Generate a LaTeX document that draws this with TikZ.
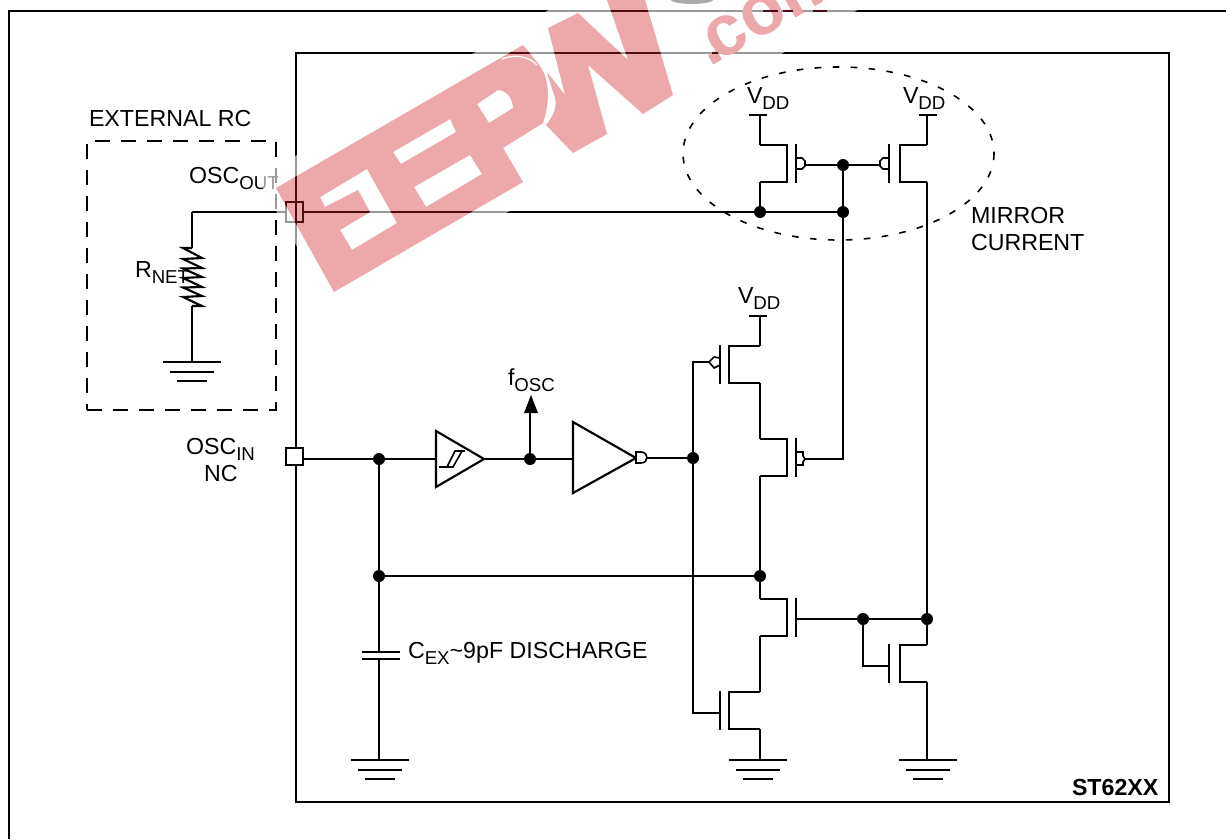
\documentclass[tikz,border=0pt]{standalone}
\usepackage{fontspec}
\setmainfont{Liberation Sans}
\newcommand{\mainsize}{\fontsize{17.4}{20}\selectfont}
\newcommand{\lowtext}[1]{\raisebox{-4.6pt}{\fontsize{14}{16}\selectfont #1}}
% rail x, top y, channel offset, gate offset
\newcommand{\fetdev}[5]{%
  \coordinate (#1-t) at (#2,#3);
  \coordinate (#1-b) at (#2,#3+37);
  \coordinate (#1-g) at (#2+#5,#3+20);
  \draw[wire] (#1-t) -- ++(#4,0) -- ++(0,37) -- (#1-b);
  \draw[wire] (#2+#5,#3-1) -- (#2+#5,#3+38);
}
% open bubble on a gate, second argument +1 pointing right, -1 pointing left
\newcommand{\gatebubble}[2]{%
  \draw[thinwire] (#1) ++(0,-7) -- ++(#2*6,0) -- ++(#2*3,3) -- ++(0,5) -- ++(-#2*3,3) -- ++(-#2*6,0);
}
\newcommand{\earth}[1]{%
  \draw[wire] (#1) ++(-29,0) -- ++(58,0);
  \draw[wire] (#1) ++(-22,10) -- ++(44,0);
  \draw[wire] (#1) ++(-15,19) -- ++(30,0);
}
\newcommand{\wmshape}{
  (276,188) -- (523,45) -- (537,62) .. controls (548,75) and (552,95) .. (543,123) -- (503,148) -- (523,182) -- (334,292) -- cycle
  (320,197) -- (367,169) -- (397,223) -- (352,250) -- (340,230) -- (370,212) -- (358,190) -- (325,207) -- cycle
  (393,152) -- (450,119) -- (456,132) -- (401,164) -- cycle
  (414,187) -- (470,155) -- (482,174) -- (426,207) -- cycle
  (477,104) -- (498,90) .. controls (507,91) and (512,97) .. (513,108) -- (489,123) -- cycle
  (548,28) -- (578,13) -- (628,60) -- (607,0) -- (645,0) -- (673,95) -- (643,114) -- (588,65) -- (607,134) -- (573,153) -- (546,125) .. controls (556,113) and (558,102) .. (553,92) -- (547,72) -- (565,95) -- cycle
}
\tikzset{
  x=0.75pt, y=-0.75pt,
  wire/.style={line width=1.6pt, black},
  thinwire/.style={line width=1.2pt, black},
  junction/.style={circle, fill=black, inner sep=0pt, minimum size=9pt},
  port/.style={draw=black, line width=1.6pt, fill=white, inner sep=0pt, minimum width=12.75pt},
  tag/.style={anchor=base west, inner sep=0pt, outer sep=0pt, font=\mainsize, text=black},
  dashbox/.style={line width=1.5pt, dash pattern=on 11pt off 8.5pt},
  dashell/.style={line width=1.2pt, dash pattern=on 5pt off 8.5pt},
  darkline/.style={draw=wmdark, line width=1.6pt},
}
\definecolor{wmpink}{RGB}{236,168,171}
\definecolor{wmgrey}{RGB}{170,170,170}
\definecolor{wmdark}{RGB}{80,10,18}
\begin{document}
\begin{tikzpicture}
\useasboundingbox (0,0) rectangle (1226,839);
\clip (0,0) rectangle (1226,839);
\fill[white] (0,0) rectangle (1226,839);

% frames
\draw[line width=1.9pt] (9,839) -- (9,11) -- (1226,11);
\node[draw=black, line width=1.6pt, inner sep=0pt, minimum width=654.75pt, minimum height=561.75pt] (chip) at (732.5,427.5) {};

% external RC
\node[draw=black, dashbox, inner sep=0pt, minimum width=141.75pt, minimum height=201.75pt] (ext) at (181.5,275.5) {};
\coordinate (rtop) at (192,212);
\coordinate (rz1) at (192,248);
\coordinate (rz2) at (192,306);
\coordinate (g1) at (192,362);
\draw[wire] (rtop) -- (rz1);
\draw[wire] (rz1) -- (183,248) -- (202,258) -- (183,259) -- (202,268) -- (183,268.5) -- (202,277) -- (183,278) -- (202,287) -- (183,287.5) -- (202,296) -- (183,297) -- (202,306) -- (rz2);
\draw[wire] (rz2) -- (g1);
\earth{g1}

% ports
\node[port, minimum height=15pt] (pout) at (294.5,212) {};
\node[port, minimum height=12.75pt] (pin) at (294.5,456.5) {};

% transistors
\fetdev{m1}{760}{145}{27}{36}
\fetdev{m2}{927}{145}{-27}{-38}
\fetdev{m3}{760}{346}{-31}{-40}
\fetdev{m4}{760}{439}{27}{36}
\fetdev{m5}{760}{599}{27}{36}
\fetdev{m6}{760}{692}{-31}{-40}
\fetdev{m7}{927}{645}{-27}{-38}

% supplies
\coordinate (v1) at (760,115);
\coordinate (v2) at (927,115);
\coordinate (v3) at (760,316);
\draw[wire] (v1) ++(-11,0) -- ++(18,0);
\draw[wire] (v2) ++(-8,0) -- ++(18,0);
\draw[wire] (v3) ++(-11,0) -- ++(18,0);
\draw[wire] (v1) -- (m1-t);
\draw[wire] (v2) -- (m2-t);
\draw[wire] (v3) -- (m3-t);

% junctions
\node[junction] (j1) at (760,212) {};
\node[junction] (j2) at (843,212) {};
\node[junction] (j3) at (843,165) {};
\node[junction] (j4) at (379,459) {};
\node[junction] (j5) at (530,459) {};
\node[junction] (j6) at (693,458) {};
\node[junction] (j7) at (379,576) {};
\node[junction] (j8) at (760,576) {};
\node[junction] (j9) at (863,619) {};
\node[junction] (j10) at (927,619) {};

% grounds
\coordinate (g2) at (380,760);
\coordinate (g3) at (758,760);
\coordinate (g4) at (928,760);
\earth{g2}
\earth{g3}
\earth{g4}

% wires
\draw[wire] (rtop) -- (pout);
\draw[wire] (pout) -- (j1.center) -- (j2.center);
\draw[wire] (m1-b) -- (j1.center);
\draw[wire] (j3.center) -- (843,459) -- (805,459);
\draw[wire] (805,165) -- (j3.center) -- (880,165);
\gatebubble{m1-g}{1}
\gatebubble{m2-g}{-1}
\draw[wire] (m2-b) -- (j10.center) -- (m7-t);
\draw[wire] (m3-b) -- (m4-t);
\draw[wire] (m4-b) -- (j8.center) -- (m5-t);
\draw[wire] (m5-b) -- (m6-t);
\draw[wire] (m6-b) -- (g3 -| m6-b);
\draw[wire] (m7-b) -- (g4 -| m7-b);
\draw[wire] (m5-g) -- (j9.center) -- (j10.center);
\draw[wire] (j9.center) -- (863,666) -- (889,666);
\draw[wire] (709,362) -- (693,362) -- (693,713) -- (720,713);
\draw[thinwire] (720,358) -- (714,357) -- (709,362) -- (714,368) -- (720,365);
\draw[thinwire] (796,452) -- (803,452) -- (803,456) -- (805,459) -- (803,462) -- (803,465) -- (796,465);
\draw[wire] (pin.east |- j4) -- (j4.center) -- (436,459);
\draw[wire] (j4.center) -- (j7.center) -- (379,652);
\draw[wire] (379,659) -- (379,760);
\draw[wire] (362,652) -- (400,652);
\draw[wire] (362,659) -- (400,659);
\draw[wire] (j7.center) -- (j8.center);

% buffer and inverter
\coordinate (sa) at (436,431);
\coordinate (sb) at (436,487);
\coordinate (sc) at (484,459);
\draw[wire, line join=miter] (sa) -- (sc) -- (sb) -- cycle;
\draw[thinwire] (439,467) -- (453,467) -- (462,451) -- (465,451);
\draw[thinwire] (447,467) -- (455,451) -- (462,451);
\coordinate (ia) at (573,422);
\coordinate (ib) at (573,493);
\coordinate (ic) at (636,458);
\draw[wire, line join=miter] (ia) -- (ic) -- (ib) -- cycle;
\draw[wire] (sc) -- (j5.center) -- (ia |- j5);
\draw[wire] (j5.center) -- (530,413);
\fill[black] (524,413) -- (531,395) -- (538,413) -- cycle;
\draw[thinwire, fill=white] (636,452) -- (641,452) .. controls (645,452) and (647,455) .. (647,457.5) .. controls (647,460) and (645,463) .. (641,463) -- (636,463) -- cycle;
\draw[wire] (647,458) -- (j6.center);

% dashed ellipse
\draw[dashell] (838.5,153.5) ellipse (155.5 and 86.5);

% labels
\node[tag] (lext) at (89,126) {EXTERNAL RC};
\node[tag] (lout) at (189,183) {OSC\lowtext{OUT}};
\node[tag] (lnet) at (135,277) {R\lowtext{NET}};
\node[tag] (lv1) at (747,103) {V\lowtext{DD}};
\node[tag] (lv2) at (903,103) {V\lowtext{DD}};
\node[tag] (lv3) at (738,303) {V\lowtext{DD}};
\node[tag] (lmir) at (971,223) {MIRROR};
\node[tag] (lcur) at (971,250) {CURRENT};
\node[tag] (lf) at (508,385) {f\lowtext{OSC}};
\node[tag] (lin) at (186,454) {OSC\lowtext{IN}};
\node[tag] (lnc) at (204,481) {NC};
\node[tag] (lcex) at (408,658) {C\lowtext{EX}\char`\~9pF DISCHARGE};
\node[tag, font=\mainsize\bfseries] (lst) at (1072,795) {ST62XX};

% watermark haze
\fill[white, opacity=0.6] (257,178) -- (566,0) -- (875,0) -- (335,312) -- cycle;
% watermark
\fill[wmpink, even odd rule] \wmshape;
\fill[wmgrey] (692,-1) ellipse (22 and 5);
\node[rotate=30, anchor=base west, inner sep=0pt, text=wmpink, font=\fontsize{54}{58}\bfseries\selectfont] (wmtext) at (709,68) {.\kern-7pt com};
% lines seen through the watermark
\begin{scope}[even odd rule]
\clip \wmshape;
\draw[darkline] (0,11) -- (1226,11);
\draw[darkline] (296,53) -- (1169,53);
\draw[darkline] (296,53) -- (296,300);
\draw[darkline] (pout.east) -- (540,212);
\draw[darkline, fill=none] (286,202) rectangle (303,222);
\end{scope}
\draw[wmdark, line width=1.5pt] (712,53) -- (718,53);
\draw[wmdark, line width=1.5pt] (763,11) -- (778,11) (783,11) -- (793,11) (813,11) -- (827,11);
\draw[white, line width=1pt] (502,59) .. controls (515,54) and (528,56) .. (537,65);
\end{tikzpicture}
\end{document}
